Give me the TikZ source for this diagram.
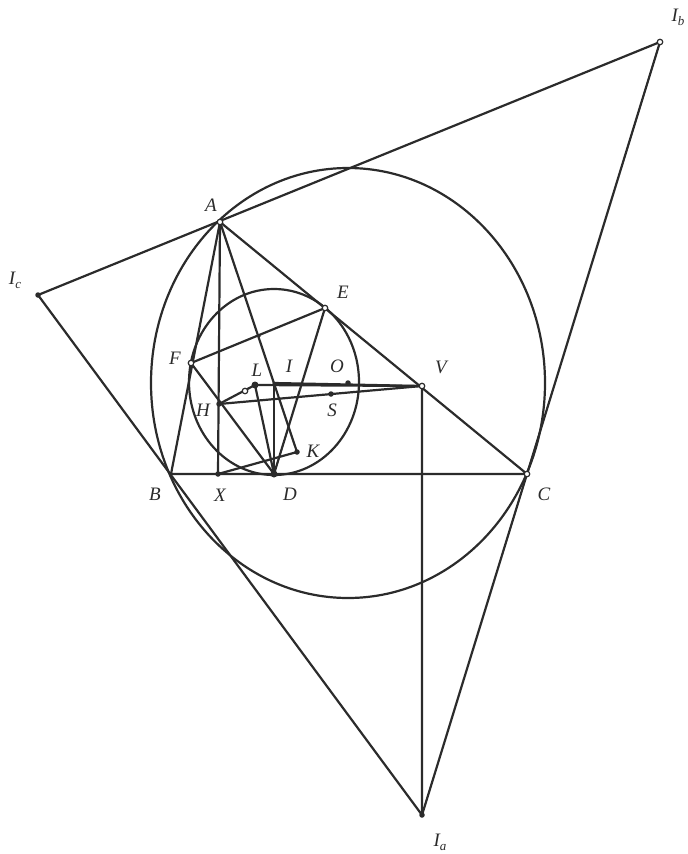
\documentclass[tikz,border=0pt]{standalone}
\usepackage{fontspec}
\setmainfont{Liberation Serif}
\usetikzlibrary{calc}

\definecolor{ink}{HTML}{2B2B2B}
\newcommand{\exlbl}[2]{#1\raisebox{-0.45ex}{\fontsize{13}{13}\selectfont #2}}

\begin{document}
\begin{tikzpicture}[x=1pt, y=-1pt,
		ln/.style={draw=ink, line width=2.2pt, line cap=round, line join=round},
		ptopen/.style={circle, draw=ink, fill=white, line width=1.2pt, inner sep=0pt, minimum size=5.5pt},
		ptfill/.style={circle, fill=ink, inner sep=0pt, minimum size=5.5pt},
		lbl/.style={text=ink, font=\fontsize{19}{19}\selectfont\itshape, inner sep=0pt}]
			\useasboundingbox (0,0) rectangle (688,854);
			% points
			\coordinate (A) at (220,222);
			\coordinate (B) at (171,474);
			\coordinate (C) at (527,474);
			\coordinate (X) at (218,474);
			\coordinate (D) at (274,474);
			\coordinate (E) at (325,308);
			\coordinate (F) at (191,363);
			\coordinate (H) at (219,404);
			\coordinate (L) at (255,385);
			\coordinate (I) at (274,383);
			\coordinate (O) at (348,383);
			\coordinate (V) at (422,386);
			\coordinate (S) at (331,394);
			\coordinate (K) at (297,452);
			\coordinate (M) at (245,391);
			\coordinate (Ib) at (660,42);
			\coordinate (Ic) at (38,295);
			\coordinate (Ia) at (422,815);
			
			% circles
			\draw [ln] (O) ellipse [x radius=197, y radius=215];
			\draw [ln] (274,382) ellipse [x radius=85, y radius=93];
			
			% lines
			\draw [ln] (Ic) -- (Ib) -- (Ia) -- cycle;
			\draw [ln] (A) -- (B) -- (C) -- cycle;
			\draw [ln] (A) -- (X);
			\draw [ln] (A) -- (K) -- (X);
			\draw [ln] (D) -- (E) -- (F) -- cycle;
			\draw [ln] (H) -- (L) -- (D);
			\draw [ln] (L) -- (V);
			\draw [ln] (I) -- (V);
			\draw [ln] (I) -- (D);
			\draw [ln] (H) -- (V) -- (Ia);
			
			% markers
			\foreach \p in {A, E, F, V, C, M, Ib}
				\node [ptopen] at (\p) {};
			\foreach \p in {X, H, O, S, K, Ia, Ic}
				\node [ptfill] at (\p) {};
			\node [ptfill, minimum size=7pt] at (D) {};
			\node [ptfill, minimum size=7pt] at (L) {};
			\node [ptfill, minimum size=3.5pt] at (I) {};
			\node [ptfill, minimum size=3.5pt] at (259,336) {};
			
			% labels
			\node (lA) [lbl] at (211,205) {A};
			\node (lB) [lbl] at (155,494) {B};
			\node (lC) [lbl] at (544,494) {C};
			\node (lX) [lbl] at (220,495) {X};
			\node (lD) [lbl] at (290,494) {D};
			\node (lE) [lbl] at (343,292) {E};
			\node (lF) [lbl] at (175,358) {F};
			\node (lH) [lbl] at (203,410) {H};
			\node (lL) [lbl] at (257,370) {L};
			\node (lI) [lbl] at (289,366) {I};
			\node (lO) [lbl] at (337,366) {O};
			\node (lV) [lbl] at (441,367) {V};
			\node (lS) [lbl] at (332,410) {S};
			\node (lK) [lbl] at (313,451) {K};
			\node (lIb) [lbl] at (678,17) {\exlbl{I}{b}};
			\node (lIc) [lbl] at (15,280) {\exlbl{I}{c}};
			\node (lIa) [lbl] at (440,842) {\exlbl{I}{a}};
		\end{tikzpicture}
\end{document}
